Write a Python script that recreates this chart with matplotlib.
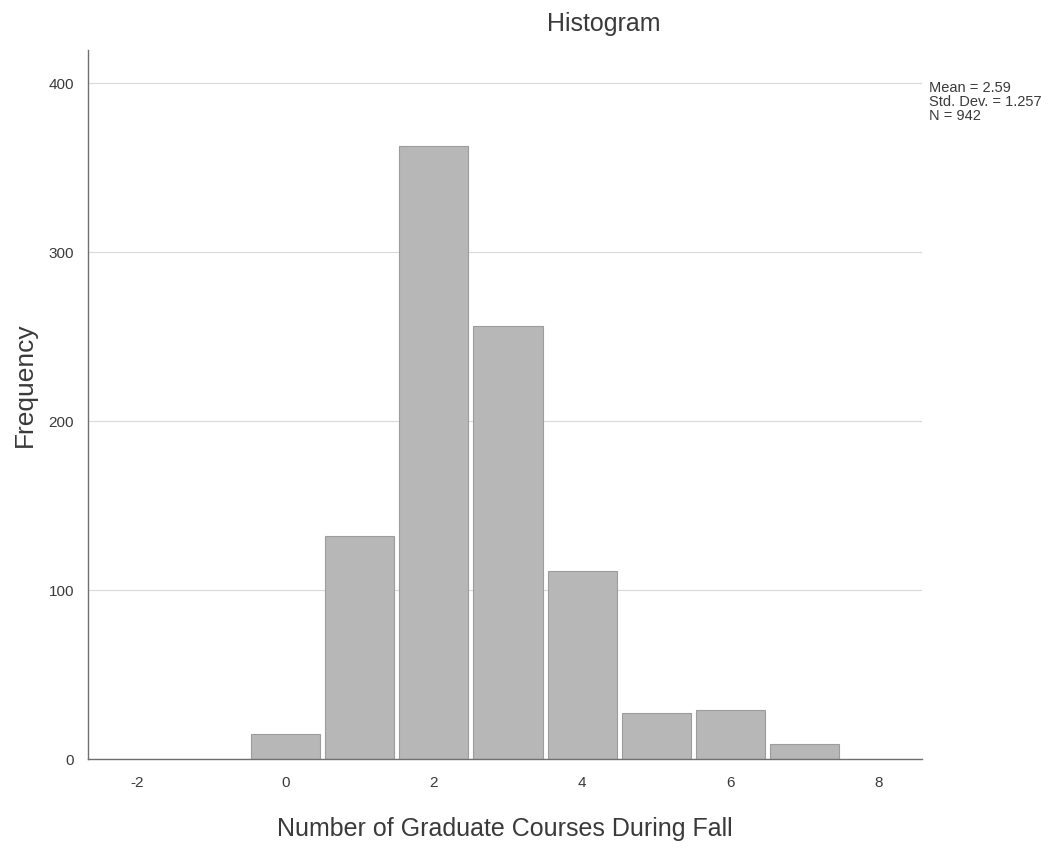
import matplotlib as mpl
import matplotlib.pyplot as plt

mpl.rc("figure", facecolor="white")
plt.rcParams['font.family'] = ['Liberation Sans', 'DejaVu Sans']
plt.rcParams['axes.unicode_minus'] = False

# course counts (bin centres) and their frequencies
courses = [0, 1, 2, 3, 4, 5, 6, 7]
freq = [15, 132, 363, 256, 111, 27, 29, 9]
x_ticks = [-2, 0, 2, 4, 6, 8]
y_ticks = [0, 100, 200, 300, 400]
stats_text = "Mean = 2.59\nStd. Dev. = 1.257\nN = 942"

text_color = '#3a3a3a'

fig = plt.figure(figsize=(10.55, 8.5), dpi=100)
ax = fig.add_axes([0.0834, 0.107, 0.7906, 0.834])

ax.bar(courses, freq, width=0.93, color='#b7b7b7', edgecolor='#9c9c9c',
       linewidth=0.8, zorder=2)

ax.set_xlim(-2.66, 8.58)
ax.set_ylim(0, 419.5)
ax.set_xticks(x_ticks)
ax.set_yticks(y_ticks)
ax.tick_params(axis='x', length=0, labelsize=11, colors=text_color, pad=12)
ax.tick_params(axis='y', length=0, labelsize=11, colors=text_color, pad=10)

ax.grid(axis='y', color='#d9d9d9', linewidth=0.8, zorder=0)
for side in ['top', 'right']:
	ax.spines[side].set_visible(False)
for side in ['left', 'bottom']:
	ax.spines[side].set_color('#707070')
	ax.spines[side].set_linewidth(1.0)

fig.text(0.572, 0.972, 'Histogram', fontsize=18, color=text_color,
         ha='center', va='center')
ax.set_xlabel('Number of Graduate Courses During Fall', fontsize=18,
              color=text_color, labelpad=20)
fig.text(0.024, 0.547, 'Frequency', fontsize=19, color=text_color,
         rotation=90, ha='center', va='center')

fig.text(0.881, 0.905, stats_text, fontsize=10.5, color=text_color,
         va='top', ha='left', linespacing=1.0)

fig.savefig('out.png', dpi=100)
